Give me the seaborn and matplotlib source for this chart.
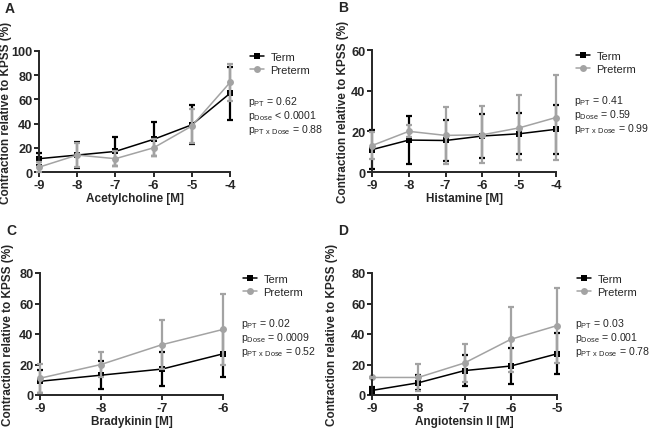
import numpy as np
import pandas as pd
import matplotlib
matplotlib.use("Agg")
import matplotlib.pyplot as plt
import seaborn as sns

# ---- data ----
dose_A = [-9, -8, -7, -6, -5, -4]
term_A = [11, 14, 17, 27, 39, 65]
term_A_sd = [5, 11, 12, 14, 16, 22]
pre_A = [4, 14, 11, 20, 38, 74]
pre_A_sd = [4, 10, 6, 7, 14, 15]

dose_B = [-9, -8, -7, -6, -5, -4]
term_B = [11, 15.7, 15.5, 17.7, 18.8, 21]
term_B_sd = [9.5, 12, 10, 11, 10, 12]
pre_B = [13, 20, 18, 18.3, 21.7, 26.8]
pre_B_sd = [6.5, 3, 14, 14, 16, 21]

dose_C = [-9, -8, -7, -6]
term_C = [9, 13, 17, 27]
term_C_sd = [7.5, 9, 11, 15.5]
pre_C = [11, 20, 33, 43]
pre_C_sd = [9.5, 8, 16, 23.5]

dose_D = [-9, -8, -7, -6, -5]
term_D = [3, 8, 16, 19, 27]
term_D_sd = [2.5, 5, 10, 12, 13.5]
pre_D = [11.5, 11.5, 21, 36.5, 45.5]
pre_D_sd = [0.5, 9, 12.5, 21.5, 24.5]

xlabels = ["Acetylcholine [M]", "Histamine [M]", "Bradykinin [M]", "Angiotensin II [M]"]
panel_letters = ["A", "B", "C", "D"]
ymaxes = [100, 60, 80, 80]
pvals = [("0.62", "< 0.0001", "= 0.88"),
         ("0.41", "= 0.59", "= 0.99"),
         ("0.02", "= 0.0009", "= 0.52"),
         ("0.03", "= 0.001", "= 0.78")]
groups = ["Term", "Preterm"]
colors = {"Term": "#000000", "Preterm": "#a3a3a3"}

sns.set_style("ticks")
plt.rcParams["font.family"] = ["Liberation Sans", "DejaVu Sans"]
plt.rcParams["mathtext.fontset"] = "custom"
plt.rcParams["mathtext.rm"] = "Liberation Sans"

W, H = 651, 431
fig = plt.figure(figsize=(W / 100, H / 100), dpi=100)

# pixel boxes: left, top, right, bottom
boxes = [(39, 52, 230, 173), (372, 51, 556, 173),
         (40, 274, 223, 396), (372, 274, 557, 396)]
ylabel_right = [12, 349, 14, 338]

datasets = [
    (dose_A, term_A, term_A_sd, pre_A, pre_A_sd),
    (dose_B, term_B, term_B_sd, pre_B, pre_B_sd),
    (dose_C, term_C, term_C_sd, pre_C, pre_C_sd),
    (dose_D, term_D, term_D_sd, pre_D, pre_D_sd),
]

for i, (dose, t, tsd, p, psd) in enumerate(datasets):
    l, tp, r, b = boxes[i]
    ax = fig.add_axes([l / W, 1 - b / H, (r - l) / W, (b - tp) / H])
    df = pd.DataFrame({
        "dose": list(dose) * 2,
        "value": list(t) + list(p),
        "sd": list(tsd) + list(psd),
        "group": ["Term"] * len(dose) + ["Preterm"] * len(dose),
    })
    for g in groups:
        sub = df[df.group == g]
        ax.errorbar(sub.dose, sub.value, yerr=sub.sd, fmt="none",
                    ecolor=colors[g], elinewidth=1.6, capsize=2.5,
                    capthick=1.6, clip_on=False, zorder=2 if g == "Term" else 3)
    sns.lineplot(data=df, x="dose", y="value", hue="group", style="group",
                 hue_order=groups, style_order=groups, palette=colors,
                 markers={"Term": "s", "Preterm": "o"}, dashes=False,
                 markersize=5, markeredgewidth=0, linewidth=1.1,
                 errorbar=None, ax=ax, clip_on=False, sort=False)
    handles, labels = ax.get_legend_handles_labels()
    ax.legend(handles, labels, frameon=False, loc="upper left",
              bbox_to_anchor=((r + 16 - l) / (r - l), 1.03), fontsize=8,
              handlelength=1.2, handletextpad=0.6, labelspacing=0.25,
              borderaxespad=0)
    for line in ax.get_legend().get_lines():
        line.set_linewidth(1.1)

    ax.set_xlim(dose[0], dose[-1])
    ax.set_ylim(0, ymaxes[i])
    ax.set_xticks(dose)
    ax.set_yticks(np.arange(0, ymaxes[i] + 1, 20))
    ax.set_xticklabels([str(d) for d in dose])
    for s in ["top", "right"]:
        ax.spines[s].set_visible(False)
    for s in ["left", "bottom"]:
        ax.spines[s].set_linewidth(1.4)
    ax.tick_params(width=1.4, length=3.5, labelsize=9.2, pad=1.2)
    for lab in ax.get_xticklabels() + ax.get_yticklabels():
        lab.set_fontweight("bold")
    ax.set_xlabel(xlabels[i], fontsize=8.5, fontweight="bold", labelpad=1)
    ax.set_ylabel("Contraction relative to KPSS (%)", fontsize=8.5,
                  fontweight="bold")
    ax.yaxis.set_label_coords((ylabel_right[i] - l) / (r - l), 0.5)

    pv = pvals[i]
    x0 = (r + 18) / W
    ytop = 1 - (tp + 50) / H
    fs = 7.6
    fig.text(x0, ytop, r"p$_{\mathregular{PT}}$ = " + pv[0], fontsize=fs, va="center")
    fig.text(x0, ytop - 14 / H, r"p$_{\mathregular{Dose}}$ " + pv[1], fontsize=fs, va="center")
    fig.text(x0, ytop - 28 / H, r"p$_{\mathregular{PT\ x\ Dose}}$ " + pv[2], fontsize=fs, va="center")

    fig.text((l - 34) / W, 1 - (tp - 43) / H, panel_letters[i], fontsize=10,
             fontweight="bold", va="center")

fig.savefig("out.png", dpi=100)
